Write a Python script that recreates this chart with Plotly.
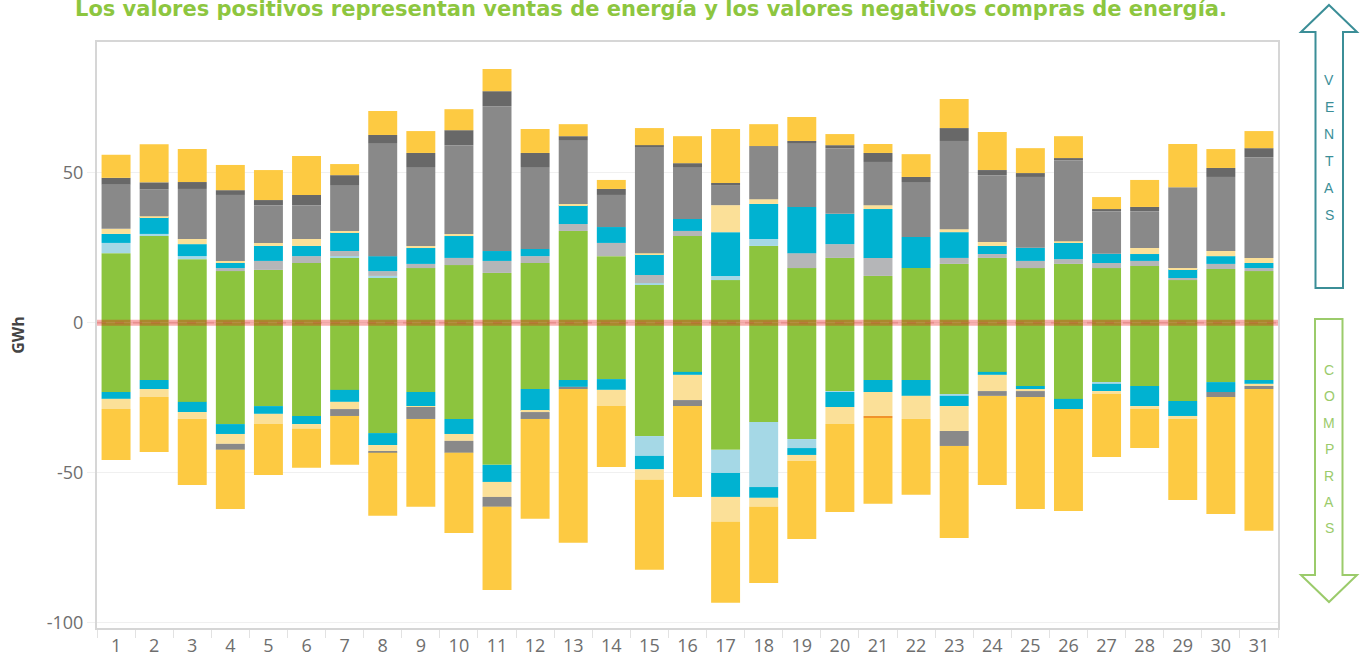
import plotly.graph_objects as go

days = [str(d) for d in range(1, 32)]

# Positive (ventas) components, GWh, stacked bottom -> top
pos_verde = [23.2, 28.9, 21.2, 17.2, 17.6, 19.9, 21.6, 14.9, 18.2, 19.2, 16.6, 19.9, 30.6, 22.2, 12.6, 28.9,
             14.2, 25.6, 18.2, 21.6, 15.6, 18.2, 19.6, 21.6, 18.2, 19.6, 18.2, 18.9, 14.2, 17.9, 17.2]
pos_azul_claro = [3.4, 0.7, 1.0, 0, 0, 0, 0.6, 0.7, 0, 0, 0, 0, 0, 0, 0.6, 0,
                  1.4, 2.3, 0, 0, 0, 0, 0, 0, 0, 0, 0, 0, 0, 0, 0]
pos_gris_claro = [0, 0, 0, 1.0, 3.0, 2.3, 1.7, 1.6, 1.4, 2.4, 4.0, 2.3, 2.3, 4.4, 2.7, 1.7,
                  0, 0, 5.0, 4.6, 6.0, 0, 2.0, 1.3, 2.4, 1.6, 1.7, 1.7, 0.7, 1.7, 1.0]
pos_cian = [3.0, 5.6, 4.0, 1.7, 5.0, 3.4, 6.3, 5.0, 5.3, 7.3, 3.3, 2.4, 6.3, 5.3, 7.0, 4.0,
            14.6, 11.7, 15.4, 10.1, 16.3, 10.4, 8.6, 2.7, 4.4, 5.4, 3.1, 2.3, 3.0, 2.6, 1.7]
pos_amarillo_claro = [1.7, 0.3, 1.7, 0.7, 1.0, 2.3, 0.4, 0, 0.7, 0.7, 0, 0, 0.4, 0, 0.3, 0,
                      9.0, 1.6, 0, 0, 1.3, 0, 1.0, 1.3, 0, 0.6, 0, 2.0, 0.3, 1.7, 1.7]
pos_gris = [14.7, 9.0, 16.7, 22.0, 12.6, 11.3, 15.3, 37.7, 26.3, 29.6, 48.3, 27.3, 21.3, 10.7, 35.4, 17.3,
            6.7, 17.7, 21.3, 21.9, 14.4, 18.3, 29.4, 22.3, 23.6, 27.0, 14.2, 12.3, 27.0, 24.7, 33.6]
pos_gris_oscuro = [2.3, 2.3, 2.3, 1.6, 1.7, 3.4, 3.3, 2.7, 4.7, 5.0, 5.0, 4.7, 1.3, 2.0, 0.6, 1.3,
                   0.7, 0, 0.7, 1.0, 3.0, 1.7, 4.3, 1.7, 1.3, 0.7, 0.7, 1.4, 0, 3.0, 3.0]
pos_amarillo = [7.7, 12.7, 11.0, 8.4, 10.0, 13.0, 3.7, 8.0, 7.3, 7.0, 7.4, 8.0, 4.0, 3.0, 5.7, 9.0,
                18.0, 7.3, 8.0, 3.7, 3.0, 7.6, 9.7, 12.7, 8.3, 7.3, 4.0, 9.0, 14.4, 6.3, 5.7]

# Negative (compras) components, GWh, stacked from zero downwards
neg_verde = [-23.1, -19.1, -26.4, -33.8, -27.8, -31.1, -22.4, -36.8, -23.1, -32.1, -47.4, -22.1, -19.1, -18.8,
             -37.8, -16.4, -42.4, -33.1, -38.8, -22.8, -19.1, -19.1, -23.8, -16.4, -21.1, -25.4, -19.8, -21.1,
             -26.1, -19.8, -19.1]
neg_azul_claro = [0, 0, 0, 0, 0, 0, 0, 0, 0, 0, 0, 0, 0, 0, -6.6, 0, -7.7, -21.7, -3.0, -0.3,
                  0, 0, -0.6, 0, 0, 0, -0.6, 0, 0, 0, 0]
neg_cian = [-2.3, -3.0, -3.4, -3.3, -2.6, -2.7, -4.0, -4.0, -4.7, -5.0, -5.7, -7.3, -2.3, -3.6, -4.5, -1.0,
            -8.0, -3.6, -2.3, -5.0, -4.0, -5.3, -3.4, -1.0, -1.0, -3.4, -2.4, -6.7, -5.0, -3.3, -1.3]
neg_amarillo_claro = [-3.4, -2.7, -2.3, -3.3, -3.4, -1.6, -2.4, -2.0, -0.3, -2.3, -5.0, -0.4, 0, -5.4, -3.5,
                      -8.4, -8.3, -3.0, -2.0, -5.7, -8.0, -7.7, -8.3, -5.4, -0.7, 0, -1.0, -1.0, -1.0, 0, -0.7]
neg_gris = [0, 0, 0, -2.0, 0, 0, -2.3, -0.6, -4.0, -4.0, -3.3, -2.3, -0.7, 0, 0, -2.0,
            0, 0, 0, 0, 0, 0, -5.0, -1.6, -2.0, 0, 0, 0, 0, -1.7, -1.0]
neg_naranja = [0, 0, 0, 0, 0, 0, 0, 0, 0, 0, 0, 0, 0, 0, 0, 0, 0, 0, 0, 0, -0.7, 0, 0, 0, 0, 0, 0, 0, 0, 0, 0]
neg_amarillo = [-17.0, -18.3, -22.0, -19.7, -17.0, -13.0, -16.3, -21.0, -29.3, -26.7, -27.7, -33.3, -51.3, -20.3,
                -30.0, -30.3, -27.0, -25.4, -26.0, -29.3, -28.6, -25.3, -30.7, -29.7, -37.3, -34.0, -21.0, -13.0,
                -27.0, -39.0, -47.3]

y_ticks = [-100, -50, 0, 50]
title_text = "Los valores positivos representan ventas de energía y los valores negativos compras de energía."
ventas_letters = list("VENTAS")
compras_letters = list("COMPRAS")

C_VERDE = "#8CC43E"
C_AZUL_CLARO = "#A5D8E6"
C_GRIS_CLARO = "#B5B6B8"
C_CIAN = "#00B2D1"
C_AMARILLO_CLARO = "#FBE098"
C_GRIS = "#898989"
C_GRIS_OSCURO = "#686868"
C_NARANJA = "#F0932B"
C_AMARILLO = "#FDCA42"

series = [
    ("Verde (venta)", pos_verde, C_VERDE),
    ("Azul claro (venta)", pos_azul_claro, C_AZUL_CLARO),
    ("Gris claro (venta)", pos_gris_claro, C_GRIS_CLARO),
    ("Cian (venta)", pos_cian, C_CIAN),
    ("Amarillo claro (venta)", pos_amarillo_claro, C_AMARILLO_CLARO),
    ("Gris (venta)", pos_gris, C_GRIS),
    ("Gris oscuro (venta)", pos_gris_oscuro, C_GRIS_OSCURO),
    ("Amarillo (venta)", pos_amarillo, C_AMARILLO),
    ("Verde (compra)", neg_verde, C_VERDE),
    ("Azul claro (compra)", neg_azul_claro, C_AZUL_CLARO),
    ("Cian (compra)", neg_cian, C_CIAN),
    ("Amarillo claro (compra)", neg_amarillo_claro, C_AMARILLO_CLARO),
    ("Gris (compra)", neg_gris, C_GRIS),
    ("Naranja (compra)", neg_naranja, C_NARANJA),
    ("Amarillo (compra)", neg_amarillo, C_AMARILLO),
]

fig = go.Figure()
for name, vals, col in series:
    fig.add_trace(go.Bar(x=days, y=vals, name=name, marker=dict(color=col, line=dict(width=0)),
                         hovertemplate="Día %{x}<br>%{y:.1f} GWh<extra>" + name + "</extra>"))

# layout geometry (pixels)
W, H = 1367, 660
L, R, T, B = 97, 89, 42, 32
pw, ph = W - L - R, H - T - B


def px(x):
    return (x - L) / pw


def py(y):
    return (H - B - y) / ph


fig.update_layout(
    width=W, height=H,
    margin=dict(l=L, r=R, t=T, b=B, autoexpand=False),
    barmode="relative",
    bargap=0.24,
    showlegend=False,
    plot_bgcolor="white",
    paper_bgcolor="white",
    font=dict(family="Open Sans", color="#666666"),
    xaxis=dict(type="category", showgrid=False, ticks="outside", tickson="boundaries",
               ticklen=8, tickcolor="#E2E2E2", tickfont=dict(size=18, color="#6E6E6E"),
               showline=True, linecolor="#D6D6D6", linewidth=2, mirror=True,
               fixedrange=True, automargin=False),
    yaxis=dict(range=[-101.8, 93.6], tickvals=y_ticks, ticktext=[str(v) for v in y_ticks],
               showgrid=True, gridcolor="#F0F0F0", gridwidth=1, zeroline=False,
               ticks="outside", ticklen=8, tickcolor="#F0F0F0",
               tickfont=dict(size=18, color="#6E6E6E"), automargin=False,
               showline=True, linecolor="#D6D6D6", linewidth=2, mirror=True,
               title=dict(text="<b>GWh</b>", font=dict(size=16, color="#444444"), standoff=18)),
)

# zero reference line
fig.add_shape(type="line", xref="paper", yref="y", x0=0, x1=1, y0=0, y1=0,
              line=dict(color="rgba(232,10,10,0.32)", width=6), layer="above")
fig.add_shape(type="line", xref="paper", yref="y", x0=0, x1=1, y0=0, y1=0,
              line=dict(color="rgba(200,40,40,0.18)", width=2, dash="dash"), layer="above")

# title
fig.add_annotation(text="<b>" + title_text + "</b>", xref="paper", yref="paper",
                   x=px(651), y=py(9), xanchor="center", yanchor="middle", showarrow=False,
                   font=dict(family="DejaVu Sans", size=21, color="#8DC63F"))

# VENTAS arrow (up)
teal = "#3B8E97"
ventas_path = (f"M {px(1329)} {py(5)} L {px(1357)} {py(32)} L {px(1343)} {py(32)} L {px(1343)} {py(288)} "
               f"L {px(1315.5)} {py(288)} L {px(1315.5)} {py(32)} L {px(1301)} {py(32)} Z")
fig.add_shape(type="path", xref="paper", yref="paper", path=ventas_path,
              line=dict(color=teal, width=2), fillcolor="white", layer="above")
for i, ch in enumerate(ventas_letters):
    fig.add_annotation(text=ch, xref="paper", yref="paper", x=px(1329), y=py(80 + 27 * i),
                       xanchor="center", yanchor="middle", showarrow=False,
                       font=dict(family="Liberation Sans", size=14, color=teal))

# COMPRAS arrow (down)
lgreen = "#9BCB6B"
compras_path = (f"M {px(1315)} {py(319)} L {px(1342.5)} {py(319)} L {px(1342.5)} {py(575)} L {px(1357)} {py(575)} "
                f"L {px(1329)} {py(602)} L {px(1301)} {py(575)} L {px(1315)} {py(575)} Z")
fig.add_shape(type="path", xref="paper", yref="paper", path=compras_path,
              line=dict(color=lgreen, width=2), fillcolor="white", layer="above")
for i, ch in enumerate(compras_letters):
    fig.add_annotation(text=ch, xref="paper", yref="paper", x=px(1329), y=py(370 + 26.4 * i),
                       xanchor="center", yanchor="middle", showarrow=False,
                       font=dict(family="Liberation Sans", size=14, color=lgreen))

fig.write_html("out.html", config={"displayModeBar": False},
               post_script="document.body.style.margin='0';")
